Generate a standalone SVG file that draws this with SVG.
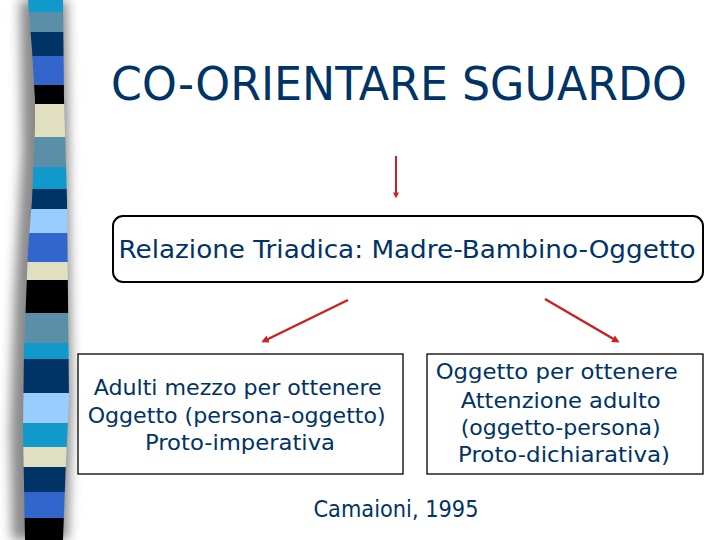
<svg xmlns="http://www.w3.org/2000/svg" width="720" height="540" viewBox="0 0 720 540">
<defs>
<style>
.t{font-family:"DejaVu Sans","Liberation Sans",sans-serif;fill:#003366;}
.box{fill:#ffffff;stroke:#000000;}
.con{stroke:#cc1f1f;fill:none;marker-end:url(#ah);}
</style>
<marker id="ah" viewBox="0 0 10 10" refX="6" refY="5" markerWidth="3" markerHeight="3" orient="auto" markerUnits="strokeWidth">
<path d="M0,0 L10,5 L0,10 z" fill="#cc1f1f"/>
</marker>
<clipPath id="stripClip">
<path d="M28,0 L63,0 L64,100 L67,200 L68,300 L69,400 L66,460 L63,540 L25,540 L23,430 L24,350 L28,250 L32,200 L35,130 L35,100 L32,50 Z"/>
</clipPath>
<filter id="blur" x="-50%" y="-10%" width="200%" height="120%">
<feGaussianBlur stdDeviation="6"/>
</filter>
</defs>
<rect width="720" height="540" fill="#ffffff"/>
<g id="strip">
<path d="M18,0 L67,0 L69,200 L72,400 L68,540 L12,540 L10,430 L14,300 L22,150 L20,0 Z" fill="#8a8a8a" filter="url(#blur)"/>
<g clip-path="url(#stripClip)">
<rect x="0" y="0" width="80" height="12" fill="#1199cc"/>
<rect x="0" y="12" width="80" height="20" fill="#5b8fa8"/>
<rect x="0" y="32" width="80" height="24" fill="#003366"/>
<rect x="0" y="56" width="80" height="29" fill="#3366cc"/>
<rect x="0" y="85" width="80" height="19" fill="#000000"/>
<rect x="0" y="104" width="80" height="33" fill="#e0e0c0"/>
<rect x="0" y="137" width="80" height="30" fill="#5b8fa8"/>
<rect x="0" y="167" width="80" height="22" fill="#1199cc"/>
<rect x="0" y="189" width="80" height="20" fill="#003366"/>
<rect x="0" y="209" width="80" height="24" fill="#99ccff"/>
<rect x="0" y="233" width="80" height="29" fill="#3366cc"/>
<rect x="0" y="262" width="80" height="18" fill="#e0e0c0"/>
<rect x="0" y="280" width="80" height="33" fill="#000000"/>
<rect x="0" y="313" width="80" height="30" fill="#5b8fa8"/>
<rect x="0" y="343" width="80" height="16" fill="#1199cc"/>
<rect x="0" y="359" width="80" height="34" fill="#003366"/>
<rect x="0" y="393" width="80" height="30" fill="#99ccff"/>
<rect x="0" y="423" width="80" height="24" fill="#1199cc"/>
<rect x="0" y="447" width="80" height="20" fill="#e0e0c0"/>
<rect x="0" y="467" width="80" height="25" fill="#003366"/>
<rect x="0" y="492" width="80" height="26" fill="#3366cc"/>
<rect x="0" y="518" width="80" height="22" fill="#000000"/>
</g>
</g>
<g id="title">
<text class="t" x="399" y="100" font-size="46" text-anchor="middle" textLength="576" lengthAdjust="spacingAndGlyphs">CO-ORIENTARE SGUARDO</text>
</g>
<g id="connectors">
<line class="con" x1="396" y1="156" x2="396" y2="196" stroke-width="2" stroke="#b0202a"/>
<line class="con" x1="348" y1="300" x2="264" y2="341" stroke-width="2.5"/>
<line class="con" x1="545" y1="299" x2="617" y2="341" stroke-width="2.5"/>
</g>
<g id="triadica">
<rect class="box" x="113" y="216" width="590" height="66" rx="10" ry="10" stroke-width="2"/>
<text class="t" x="407" y="258" font-size="25" text-anchor="middle" textLength="577" lengthAdjust="spacingAndGlyphs">Relazione Triadica: Madre-Bambino-Oggetto</text>
</g>
<g id="imperativa">
<rect class="box" x="78" y="354" width="325" height="120" stroke-width="1.3"/>
<text class="t" font-size="21" text-anchor="middle">
<tspan x="241" y="395" textLength="288" lengthAdjust="spacingAndGlyphs">Adulti mezzo per ottenere</tspan>
<tspan x="240" y="423" textLength="298" lengthAdjust="spacingAndGlyphs">Oggetto (persona-oggetto)</tspan>
<tspan x="240" y="450" textLength="190" lengthAdjust="spacingAndGlyphs">Proto-imperativa</tspan>
</text>
</g>
<g id="dichiarativa">
<rect class="box" x="427" y="354" width="276" height="120" stroke-width="1.3"/>
<text class="t" font-size="21" text-anchor="middle">
<tspan x="560" y="379" textLength="242" lengthAdjust="spacingAndGlyphs">Oggetto per ottenere</tspan>
<tspan x="564" y="408" textLength="200" lengthAdjust="spacingAndGlyphs">Attenzione adulto</tspan>
<tspan x="564" y="435" textLength="200" lengthAdjust="spacingAndGlyphs">(oggetto-persona)</tspan>
<tspan x="564" y="462" textLength="212" lengthAdjust="spacingAndGlyphs">Proto-dichiarativa)</tspan>
</text>
</g>
<g id="citation">
<text class="t" x="396" y="517" font-size="23" text-anchor="middle" textLength="165" lengthAdjust="spacingAndGlyphs">Camaioni, 1995</text>
</g>
</svg>
